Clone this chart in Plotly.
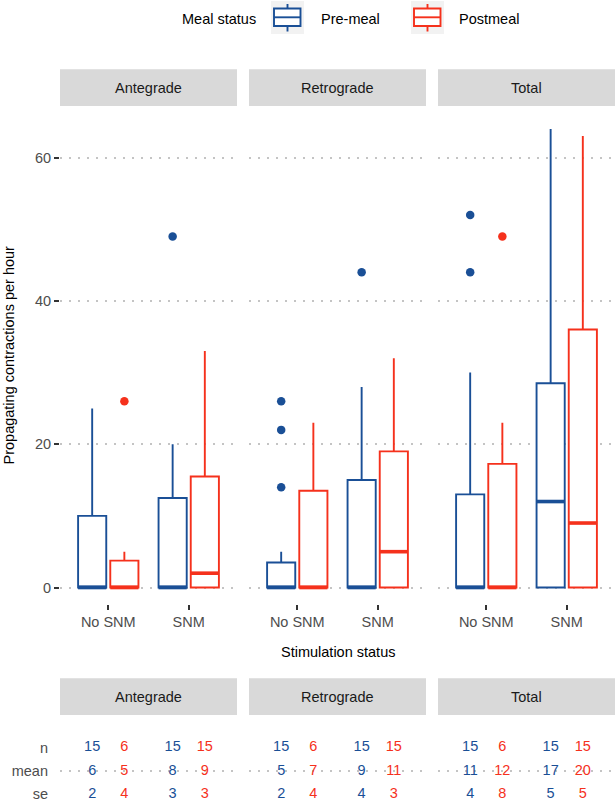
import plotly.graph_objects as go

# ---------------- data ----------------
facets = ["Antegrade", "Retrograde", "Total"]
stim_levels = ["No SNM", "SNM"]
meal_levels = ["Pre-meal", "Postmeal"]

# box statistics, ordered facet x stimulation (Ant-NoSNM, Ant-SNM, Ret-NoSNM, Ret-SNM, Tot-NoSNM, Tot-SNM)
pre_q1 = [0, 0, 0, 0, 0, 0]
pre_median = [0, 0, 0, 0, 0, 12]
pre_q3 = [10, 12.5, 3.5, 15, 13, 28.5]
pre_lower = [0, 0, 0, 0, 0, 0]
pre_upper = [25, 20, 5, 28, 30, 64]
pre_outliers = [[], [49], [14, 22, 26], [44], [44, 52], []]

post_q1 = [0, 0, 0, 0, 0, 0]
post_median = [0, 2, 0, 5, 0, 9]
post_q3 = [3.75, 15.5, 13.5, 19, 17.25, 36]
post_lower = [0, 0, 0, 0, 0, 0]
post_upper = [5, 33, 23, 32, 23, 63]
post_outliers = [[26], [], [], [], [49], []]

# summary table
pre_n = [15, 15, 15, 15, 15, 15]
post_n = [6, 15, 6, 15, 6, 15]
pre_mean = [6, 8, 5, 9, 11, 17]
post_mean = [5, 9, 7, 11, 12, 20]
pre_se = [2, 3, 2, 4, 4, 5]
post_se = [4, 3, 4, 3, 8, 5]
table_rows = ["se", "mean", "n"]

y_ticks = [0, 20, 40, 60]

# ---------------- styling ----------------
W, H = 616, 803
BLUE = "#1A4F96"
RED = "#F5311C"
FONT = "Liberation Sans, Arial, sans-serif"
FS = 14.5
GRID = "#C4C4C4"
STRIP = "#D9D9D9"
LW = 1.9

def X(p):
    return p / W

def Y(p):
    return 1 - p / H

panels_px = [(60, 237), (249, 426), (438, 615)]
top_px = (106, 604)
tab_px = (715, 803)
dodge = 0.2
box_w = 0.35

fig = go.Figure()

meal_data = [
    (BLUE, pre_q1, pre_median, pre_q3, pre_lower, pre_upper, pre_outliers, -dodge),
    (RED, post_q1, post_median, post_q3, post_lower, post_upper, post_outliers, dodge),
]

for fi, facet in enumerate(facets):
    xa = "x" if fi == 0 else f"x{fi+1}"
    ya = "y" if fi == 0 else f"y{fi+1}"
    for si, s in enumerate(stim_levels):
        k = fi * 2 + si
        for color, q1, med, q3, lo, up, outs, off in meal_data:
            pos = si + off
            fig.add_trace(go.Box(
                x=[pos], q1=[q1[k]], median=[med[k]], q3=[q3[k]],
                lowerfence=[lo[k]], upperfence=[up[k]],
                width=box_w, whiskerwidth=0, boxpoints=False,
                orientation="v",
                line=dict(color=color, width=LW), fillcolor="white",
                xaxis=xa, yaxis=ya, showlegend=False, hoverinfo="skip",
            ))
            fig.add_trace(go.Scatter(
                x=[pos - box_w / 2, pos + box_w / 2], y=[med[k], med[k]],
                mode="lines", line=dict(color=color, width=3.6),
                xaxis=xa, yaxis=ya, showlegend=False, hoverinfo="skip",
            ))
            if outs[k]:
                fig.add_trace(go.Scatter(
                    x=[pos] * len(outs[k]), y=outs[k], mode="markers",
                    marker=dict(color=color, size=8.5, line=dict(width=0)),
                    xaxis=xa, yaxis=ya, showlegend=False, hoverinfo="skip",
                ))

# table traces
for fi, facet in enumerate(facets):
    xa = f"x{fi+4}"
    ya = f"y{fi+4}"
    for color, ns, means, ses, off in [
        (BLUE, pre_n, pre_mean, pre_se, -dodge),
        (RED, post_n, post_mean, post_se, dodge),
    ]:
        xs, ys, txt = [], [], []
        for si in range(2):
            k = fi * 2 + si
            for row, vals in [("n", ns), ("mean", means), ("se", ses)]:
                xs.append(si + off)
                ys.append(table_rows.index(row) + 1)
                txt.append(str(vals[k]))
        fig.add_trace(go.Scatter(
            x=xs, y=ys, text=txt, mode="text",
            textfont=dict(color=color, size=14.5, family=FONT),
            xaxis=xa, yaxis=ya, showlegend=False, hoverinfo="skip",
        ))

layout = dict(
    width=W, height=H, margin=dict(l=0, r=0, t=0, b=0),
    paper_bgcolor="white", plot_bgcolor="white",
    font=dict(family=FONT, size=FS, color="black"),
    showlegend=False,
)

for fi in range(3):
    x0, x1 = panels_px[fi]
    xn = "xaxis" if fi == 0 else f"xaxis{fi+1}"
    yn = "yaxis" if fi == 0 else f"yaxis{fi+1}"
    ya = "y" if fi == 0 else f"y{fi+1}"
    xa = "x" if fi == 0 else f"x{fi+1}"
    layout[xn] = dict(
        domain=[X(x0), X(x1)], range=[-0.6, 1.6], anchor=ya,
        tickmode="array", tickvals=[0, 1], ticktext=stim_levels,
        ticks="outside", ticklen=5, tickwidth=2, tickcolor="#333333",
        tickfont=dict(color="#4D4D4D", size=FS),
        showgrid=False, zeroline=False, showline=False, fixedrange=True,
    )
    layout[yn] = dict(
        domain=[Y(top_px[1]), Y(top_px[0])], range=[-2.3, 67.2], anchor=xa,
        tickmode="array", tickvals=y_ticks, ticktext=[str(v) for v in y_ticks],
        ticks="outside" if fi == 0 else "", ticklen=5, tickwidth=2, tickcolor="#333333",
        showticklabels=(fi == 0),
        tickfont=dict(color="#4D4D4D", size=FS),
        showgrid=True, gridcolor=GRID, gridwidth=2, griddash="2px,7px",
        zeroline=False, showline=False, fixedrange=True,
    )
    # table axes
    xn2 = f"xaxis{fi+4}"
    yn2 = f"yaxis{fi+4}"
    layout[xn2] = dict(
        domain=[X(x0), X(x1)], range=[-0.6, 1.6], anchor=f"y{fi+4}",
        showticklabels=False, ticks="", showgrid=False, zeroline=False,
        showline=False, fixedrange=True,
    )
    layout[yn2] = dict(
        domain=[Y(tab_px[1]), Y(tab_px[0])], range=[0.617, 4.41], anchor=f"x{fi+4}",
        tickmode="array", tickvals=[1, 2, 3], ticktext=table_rows,
        ticks="", showticklabels=(fi == 0), ticklabelstandoff=11,
        tickfont=dict(color="#4D4D4D", size=FS),
        showgrid=False, zeroline=False, showline=False, fixedrange=True,
    )

fig.update_layout(**layout)

shapes = []
annotations = []

# strips
for fi, facet in enumerate(facets):
    x0, x1 = panels_px[fi]
    for (s0, s1) in [(69.3, 106), (678.3, 715)]:
        shapes.append(dict(type="rect", xref="paper", yref="paper",
                           x0=X(x0), x1=X(x1), y0=Y(s1), y1=Y(s0),
                           fillcolor=STRIP, line=dict(width=0), layer="below"))
        annotations.append(dict(x=X((x0 + x1) / 2), y=Y((s0 + s1) / 2),
                                xref="paper", yref="paper", text=facet,
                                showarrow=False, xanchor="center", yanchor="middle",
                                font=dict(color="#1A1A1A", size=FS)))
    # dotted line across the mean row of the table
    shapes.append(dict(type="line", xref=f"x{fi+4} domain", yref=f"y{fi+4}",
                       x0=0, x1=1, y0=table_rows.index("mean") + 1,
                       y1=table_rows.index("mean") + 1,
                       line=dict(color=GRID, width=2, dash="2px,7px"), layer="below"))

# axis titles
annotations.append(dict(x=X(8.5), y=Y((top_px[0] + top_px[1]) / 2), xref="paper", yref="paper",
                        text="Propagating contractions per hour", textangle=-90,
                        showarrow=False, xanchor="center", yanchor="middle",
                        font=dict(color="black", size=FS)))
annotations.append(dict(x=X((60 + 615) / 2), y=Y(652), xref="paper", yref="paper",
                        text="Stimulation status", showarrow=False,
                        xanchor="center", yanchor="middle",
                        font=dict(color="black", size=FS)))

# legend (drawn manually)
annotations.append(dict(x=X(258), y=Y(19), xref="paper", yref="paper", text="Meal status",
                        showarrow=False, xanchor="right", yanchor="middle",
                        font=dict(color="black", size=FS)))
for (kx0, kx1), color, label, tx in [((271, 304), BLUE, meal_levels[0], 319),
                                      ((411, 444), RED, meal_levels[1], 457)]:
    shapes.append(dict(type="rect", xref="paper", yref="paper",
                       x0=X(kx0), x1=X(kx1), y0=Y(34), y1=Y(1),
                       fillcolor="#F2F2F2", line=dict(width=0)))
    cx = (kx0 + kx1) / 2
    shapes.append(dict(type="rect", xref="paper", yref="paper",
                       x0=X(kx0 + 3), x1=X(kx1 - 3.5), y0=Y(26), y1=Y(8.5),
                       fillcolor="white", line=dict(color=color, width=LW)))
    shapes.append(dict(type="line", xref="paper", yref="paper",
                       x0=X(kx0 + 3), x1=X(kx1 - 3.5), y0=Y(17.3), y1=Y(17.3),
                       line=dict(color=color, width=LW)))
    shapes.append(dict(type="line", xref="paper", yref="paper",
                       x0=X(cx), x1=X(cx), y0=Y(8.5), y1=Y(4),
                       line=dict(color=color, width=LW)))
    shapes.append(dict(type="line", xref="paper", yref="paper",
                       x0=X(cx), x1=X(cx), y0=Y(31.5), y1=Y(26),
                       line=dict(color=color, width=LW)))
    annotations.append(dict(x=X(tx), y=Y(19), xref="paper", yref="paper", text=label,
                            showarrow=False, xanchor="left", yanchor="middle",
                            font=dict(color="black", size=FS)))

fig.update_layout(shapes=shapes, annotations=annotations)

fig.write_html(
    "out.html",
    config={"displayModeBar": False},
    post_script="document.body.style.margin='0px';document.body.style.overflow='hidden';",
)
